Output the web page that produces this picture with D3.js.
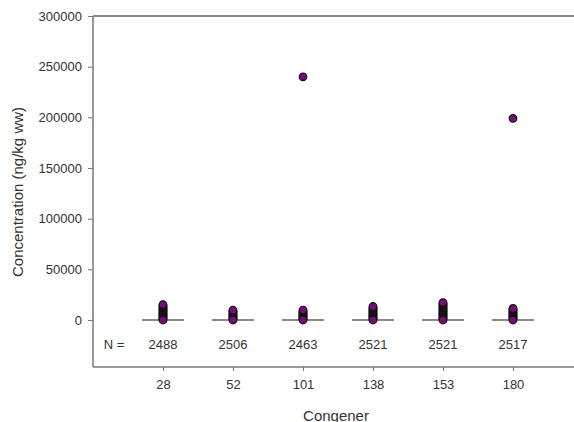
<!DOCTYPE html>
<html>
<head>
<meta charset="utf-8">
<script src="https://cdn.jsdelivr.net/npm/d3@7"></script>
<style>
	body { margin: 0; background: #fff; }
	svg { display: block; font-family: "Liberation Sans", Arial, sans-serif; }
</style>
</head>
<body>
<div id="chart"></div>
<script>
// congeners and N counts
var congeners = [ "28", "52", "101", "138", "153", "180" ];
var counts = [ 2488, 2506, 2463, 2521, 2521, 2517 ];

// concentrations (ng/kg ww)
var values28 = [ 0, 800, 1700, 2500, 3600, 4400, 5500, 6300, 7400, 8200, 9300, 10100, 11200, 12000, 13100, 14000, 15200 ];
var values52 = [ 0, 700, 1600, 2400, 3300, 4200, 5100, 6000, 6900, 7800, 8900, 9600 ];
var values101 = [ 0, 800, 1500, 2500, 3400, 4300, 5200, 6100, 7000, 7900, 8800, 9800, 240000 ];
var values138 = [ 0, 900, 1800, 2700, 3500, 4600, 5400, 6500, 7300, 8400, 9200, 10300, 11200, 12100, 13300 ];
var values153 = [ 0, 900, 1800, 2600, 3700, 4500, 5600, 6400, 7500, 8300, 9400, 10200, 11300, 12100, 13200, 14100, 15200, 16100, 17200 ];
var values180 = [ 0, 800, 1700, 2600, 3500, 4400, 5300, 6200, 7100, 8000, 8900, 9800, 10700, 11400, 199000 ];
var medians = [ 0, 0, 0, 0, 0, 0 ];

var yTicks = [ 0, 50000, 100000, 150000, 200000, 250000, 300000 ];

var width = 574, height = 422;
var plotLeft = 93, plotTop = 16, zeroY = 320, plotBottom = 367;

var allValues = [ values28, values52, values101, values138, values153, values180 ];

var svg = d3.select( "#chart" ).append( "svg" )
	.attr( "width", width )
	.attr( "height", height );

var xScale = d3.scalePoint()
	.domain( [ "", ...congeners, " " ] )
	.range( [ plotLeft, plotLeft + 70 * 7 ] );

var yScale = d3.scaleLinear()
	.domain( [ 0, 300000 ] )
	.range( [ zeroY, plotTop ] );

// top frame line
svg.append( "line" )
	.attr( "x1", plotLeft ).attr( "x2", width )
	.attr( "y1", yScale( 300000 ) ).attr( "y2", yScale( 300000 ) )
	.attr( "stroke", "#8c8c8c" ).attr( "stroke-width", 2 );

// y axis
var yAxis = svg.append( "g" )
	.attr( "transform", `translate(${plotLeft},0)` )
	.call( d3.axisLeft( yScale ).tickValues( yTicks ).tickSize( 5 ).tickPadding( 6 ).tickFormat( d3.format( "d" ) ) );
yAxis.select( ".domain" ).remove();
yAxis.append( "line" )
	.attr( "x1", 0 ).attr( "x2", 0 )
	.attr( "y1", plotTop ).attr( "y2", plotBottom )
	.attr( "stroke", "#777" ).attr( "stroke-width", 1.5 );
yAxis.selectAll( ".tick line" ).attr( "stroke", "#777" );
yAxis.selectAll( "text" )
	.attr( "fill", "#333" )
	.style( "font-size", "13px" );

// x axis
var xAxis = svg.append( "g" )
	.attr( "transform", `translate(0,${plotBottom})` )
	.call( d3.axisBottom( xScale ).tickValues( congeners ).tickSize( 4 ).tickPadding( 9 ) );
xAxis.select( ".domain" ).remove();
xAxis.append( "line" )
	.attr( "x1", plotLeft ).attr( "x2", width )
	.attr( "y1", 0 ).attr( "y2", 0 )
	.attr( "stroke", "#777" ).attr( "stroke-width", 1.5 );
xAxis.selectAll( ".tick line" ).attr( "stroke", "#777" );
xAxis.selectAll( "text" )
	.attr( "fill", "#333" )
	.style( "font-size", "13px" );

// median lines
svg.selectAll( ".median" )
	.data( congeners )
	.enter()
	.append( "line" )
	.attr( "x1", d => xScale( d ) - 21 )
	.attr( "x2", d => xScale( d ) + 21 )
	.attr( "y1", ( d, i ) => yScale( medians[ i ] ) )
	.attr( "y2", ( d, i ) => yScale( medians[ i ] ) )
	.attr( "stroke", "#8a8a8a" )
	.attr( "stroke-width", 2 );

// points: lowest one drawn last so it shows purple on top of the stack
var points = [];
congeners.forEach( function ( c, i ) {
	var vals = allValues[ i ];
	vals.slice( 1 ).concat( [ vals[ 0 ] ] ).forEach( function ( v ) {
		points.push( { name: c, value: v } );
	} );
} );

svg.selectAll( ".pt" )
	.data( points )
	.enter()
	.append( "circle" )
	.attr( "cx", d => xScale( d.name ) )
	.attr( "cy", d => yScale( d.value ) )
	.attr( "r", 3.8 )
	.attr( "fill", "#7a0a7a" )
	.attr( "stroke", "#111" )
	.attr( "stroke-width", 1.2 );

// N = row
svg.append( "text" )
	.attr( "x", 114 ).attr( "y", 349 )
	.attr( "text-anchor", "middle" )
	.attr( "fill", "#333" )
	.style( "font-size", "13px" )
	.text( "N =" );

svg.selectAll( ".count" )
	.data( counts )
	.enter()
	.append( "text" )
	.attr( "x", ( d, i ) => xScale( congeners[ i ] ) )
	.attr( "y", 349 )
	.attr( "text-anchor", "middle" )
	.attr( "fill", "#333" )
	.style( "font-size", "13px" )
	.text( d => d );

// axis titles
svg.append( "text" )
	.attr( "transform", "rotate(-90)" )
	.attr( "x", -192 )
	.attr( "y", 23 )
	.attr( "text-anchor", "middle" )
	.attr( "fill", "#333" )
	.style( "font-size", "15px" )
	.text( "Concentration (ng/kg ww)" );

svg.append( "text" )
	.attr( "x", 336 )
	.attr( "y", 421 )
	.attr( "text-anchor", "middle" )
	.attr( "fill", "#333" )
	.style( "font-size", "15px" )
	.text( "Congener" );
</script>
</body>
</html>
